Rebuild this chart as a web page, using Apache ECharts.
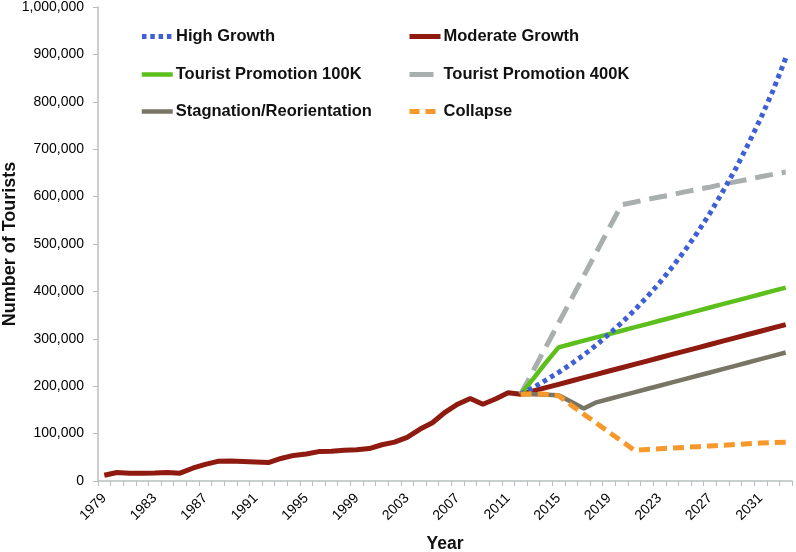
<!DOCTYPE html>
<html>
<head>
<meta charset="utf-8">
<script src="https://cdn.jsdelivr.net/npm/echarts@6/dist/echarts.min.js"></script>
<style>
html,body{margin:0;padding:0;background:#fff;}
#c{width:796px;height:552px;}
</style>
</head>
<body>
<div id="c"></div>
<script>
// Year categories 1979..2033
const years = ['1979','1980','1981','1982','1983','1984','1985','1986','1987','1988','1989','1990','1991','1992','1993','1994','1995','1996','1997','1998','1999','2000','2001','2002','2003','2004','2005','2006','2007','2008','2009','2010','2011','2012','2013','2014','2015','2016','2017','2018','2019','2020','2021','2022','2023','2024','2025','2026','2027','2028','2029','2030','2031','2032','2033'];

// Historical observations 1979..2011
const histYears = ['1979','1980','1981','1982','1983','1984','1985','1986','1987','1988','1989','1990','1991','1992','1993','1994','1995','1996','1997','1998','1999','2000','2001','2002','2003','2004','2005','2006','2007','2008','2009','2010','2011'];
const historical = [12000,18000,16500,16500,17000,18000,16500,27000,35000,41500,42000,41000,40000,39000,47500,54000,57000,62000,63000,65000,66000,68500,76500,82000,92000,109000,123000,145000,162000,174000,162000,173000,186000];

// Projection years 2012..2033
const projYears = ['2012','2013','2014','2015','2016','2017','2018','2019','2020','2021','2022','2023','2024','2025','2026','2027','2028','2029','2030','2031','2032','2033'];
const highGrowth = [183000,197000,213000,229000,247000,266000,287000,310000,334000,360000,388000,418000,451000,486000,524000,565000,610000,657000,709000,764000,824000,892000];
const moderateGrowth = [183000,190000,197000,204000,211000,218000,225000,232000,239000,246000,253000,260000,267000,274000,281000,288000,295000,302000,309000,316000,323000,330000];
const promo100K = [183000,216000,250000,282000,289000,296000,303000,310000,317000,324000,331000,338000,345000,352000,359000,366000,373000,380000,387000,394000,401000,408000];
const promo400K = [183000,233000,283000,333000,383000,433000,483000,533000,583000,588000,594000,599000,604000,610000,615000,620000,626000,631000,636000,642000,647000,652000];
const stagnation = [183000,183000,182000,181000,167000,153000,166000,173000,180000,187000,194000,201000,208000,215000,222000,229000,236000,243000,250000,257000,264000,271000];
const collapse = [183000,184000,183000,180000,160000,141000,122000,103000,84000,65000,66500,68000,69500,71000,72500,74000,75500,77000,78500,80000,81000,82000];

const seriesNames = ['High Growth','Moderate Growth','Tourist Promotion 100K','Tourist Promotion 400K','Stagnation/Reorientation','Collapse'];

const pairs = (xs, vs) => xs.map((x, i) => [x, vs[i]]);

const FONT = "'Liberation Sans',Arial,sans-serif";

const styles = {
  'High Growth':             {color:'#3F5FD4', width:5,   type:[4.5,4]},
  'Moderate Growth':         {color:'#8E1A10', width:5,   type:'solid'},
  'Tourist Promotion 100K':  {color:'#5CBF1C', width:4.5, type:'solid'},
  'Tourist Promotion 400K':  {color:'#A9AFAE', width:5,   type:[18,9]},
  'Stagnation/Reorientation':{color:'#797565', width:4.5, type:'solid'},
  'Collapse':                {color:'#F7982B', width:5,   type:[11,6]}
};
const legendIconDash = {
  'High Growth':[4.5,3.8],
  'Tourist Promotion 400K':[24,10],
  'Collapse':[10,6]
};

const chart = echarts.init(document.getElementById('c'), null, {renderer:'canvas'});

const legendPos = [
  {left:139.5, top:28}, {left:407, top:28},
  {left:139.5, top:66}, {left:407, top:66},
  {left:139.5, top:103}, {left:407, top:103}
];
const legends = seriesNames.map((n, i) => ({
  data:[n], left:legendPos[i].left, top:legendPos[i].top, padding:0,
  itemWidth:31, itemHeight:18, selectedMode:false,
  itemStyle:{opacity:0},
  lineStyle:{color:styles[n].color, width:styles[n].width, type:legendIconDash[n] || 'solid', cap:'butt', opacity:1},
  textStyle:{fontFamily:FONT, fontSize:16.5, fontWeight:'bold', color:'#111', padding:[0,0,0,-2]}
}));

const mkSeries = (name, data, z) => ({
  name, type:'line', symbol:'none', z, data,
  lineStyle:{color:styles[name].color, width:styles[name].width, type:styles[name].type, cap:'butt'},
  itemStyle:{color:styles[name].color}
});

const option = {
  animation:false,
  backgroundColor:'#fff',
  grid:{left:98, right:4, top:7, bottom:71, containLabel:false, outerBoundsMode:'none'},
  legend:legends,
  xAxis:{
    type:'category', data:years, boundaryGap:true,
    name:'Year', nameLocation:'middle', nameGap:54, nameMoveOverlap:false,
    nameTextStyle:{fontFamily:FONT, fontSize:17.5, fontWeight:'bold', color:'#111'},
    axisLine:{lineStyle:{color:'#B8BEBE', width:1.5}},
    axisTick:{show:true, interval:0, length:5, lineStyle:{color:'#B8BEBE', width:1}},
    axisLabel:{interval:3, rotate:45, margin:15, fontFamily:FONT, fontSize:14, color:'#000'},
    splitLine:{show:false}
  },
  yAxis:{
    type:'value', min:0, max:1000000, interval:100000,
    name:'Number of Tourists', nameLocation:'middle', nameGap:79, nameRotate:90, nameMoveOverlap:false,
    nameTextStyle:{fontFamily:FONT, fontSize:18, fontWeight:'bold', color:'#111'},
    axisLine:{show:true, lineStyle:{color:'#B8BEBE', width:1.5}},
    axisTick:{show:true, length:5, lineStyle:{color:'#B8BEBE', width:1}},
    axisLabel:{margin:14, fontFamily:FONT, fontSize:14, color:'#000',
      formatter:v => v.toLocaleString('en-US')},
    splitLine:{show:false}
  },
  series:[
    mkSeries('Moderate Growth', pairs(histYears, historical).concat(pairs(projYears, moderateGrowth)), 2),
    mkSeries('Tourist Promotion 400K', pairs(projYears, promo400K), 3),
    mkSeries('Tourist Promotion 100K', pairs(projYears, promo100K), 4),
    mkSeries('High Growth', pairs(projYears, highGrowth), 5),
    mkSeries('Stagnation/Reorientation', pairs(projYears, stagnation), 6),
    mkSeries('Collapse', pairs(projYears, collapse), 7)
  ]
};
chart.setOption(option);
</script>
</body>
</html>
